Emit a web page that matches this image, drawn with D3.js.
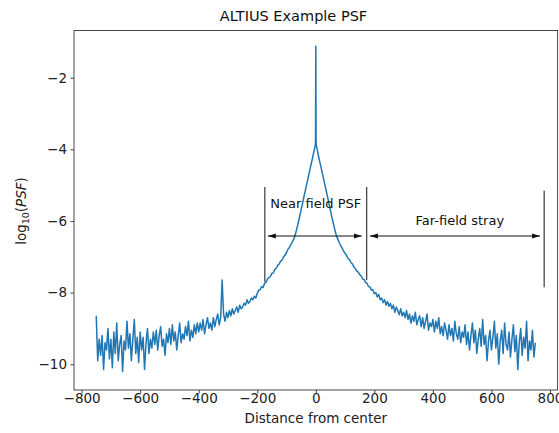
<!DOCTYPE html>
<html>
<head>
<meta charset="utf-8">
<script src="https://cdn.jsdelivr.net/npm/d3@7"></script>
<style>
  body { margin: 0; background: #fff; }
  svg { display: block; font-family: "DejaVu Sans", sans-serif; }
</style>
</head>
<body>
<div id="chart"></div>
<script>
// left wing, distance -750 .. -5 in steps of 5
const leftDistance = d3.range(-750, -4, 5);
const leftLogPsf = [
  -8.65, -9.9, -9.3, -9.75, -9.2, -10.15, -9.4, -9.6, -9.0, -9.85,
  -9.3, -10.1, -9.1, -9.7, -8.85, -9.9, -9.45, -9.2, -10.2, -9.35,
  -9.6, -8.8, -9.55, -9.15, -9.9, -9.3, -8.75, -9.7, -9.25, -9.95,
  -9.1, -9.6, -9.25, -10.15, -9.4, -9.0, -9.7, -9.3, -9.55, -9.1,
  -9.45, -9.05, -9.6, -9.2, -8.95, -9.5, -9.3, -9.75, -9.15, -9.4,
  -9.0, -9.45, -8.9, -9.35, -9.1, -9.6, -9.2, -8.85, -9.4, -9.15,
  -9.3, -8.95, -9.2, -8.8, -9.35, -9.05, -9.25, -8.9, -9.15, -8.85,
  -9.1, -8.85, -9.05, -8.75, -9.15, -8.9, -8.7, -9.0, -8.85, -9.05,
  -8.7, -8.95, -8.75, -8.6, -8.9, -8.7, -7.65, -8.6, -8.8, -8.55,
  -8.7, -8.5, -8.65, -8.45, -8.6, -8.5, -8.4, -8.55, -8.35, -8.45,
  -8.4, -8.3, -8.35, -8.2, -8.3, -8.25, -8.15, -8.2, -8.1, -8.15,
  -8.02, -7.93, -7.92, -7.83, -7.86, -7.74, -7.72, -7.62, -7.58, -7.55,
  -7.46, -7.45, -7.35, -7.32, -7.24, -7.2, -7.12, -7.09, -7.0, -6.95,
  -6.88, -6.79, -6.74, -6.65, -6.58, -6.5, -6.38, -6.22, -6.05, -5.87,
  -5.68, -5.5, -5.3, -5.12, -4.93, -4.75, -4.56, -4.38, -4.2, -4.0
];
// central spike
const coreDistance = [-2, -1, 0, 1, 2];
const coreLogPsf = [-3.9, -3.8, -1.12, -3.8, -3.9];
// right wing, distance 5 .. 750 in steps of 5
const rightDistance = d3.range(5, 751, 5);
const rightLogPsf = [
  -4.02, -4.22, -4.4, -4.58, -4.76, -4.95, -5.14, -5.32, -5.52, -5.7,
  -5.9, -6.07, -6.24, -6.4, -6.5, -6.6, -6.69, -6.76, -6.84, -6.9,
  -6.96, -7.04, -7.08, -7.16, -7.2, -7.28, -7.33, -7.4, -7.43, -7.5,
  -7.53, -7.62, -7.63, -7.72, -7.74, -7.83, -7.84, -7.93, -7.92, -8.03,
  -8.0, -8.12, -8.05, -8.2, -8.15, -8.28, -8.2, -8.35, -8.25, -8.38,
  -8.3, -8.45, -8.35, -8.55, -8.4, -8.5, -8.62, -8.45, -8.65, -8.55,
  -8.7, -8.5, -8.75, -8.6, -8.85, -8.65, -8.8, -8.55, -8.9, -8.75,
  -8.65, -8.95, -8.7, -9.0, -8.8, -8.6, -9.05, -8.85, -8.95, -8.75,
  -9.1, -8.8, -9.0, -8.7, -9.15, -8.95, -9.2, -8.85, -9.05, -9.3,
  -8.9, -9.2, -9.0, -9.35, -8.8, -9.15, -9.3, -8.95, -9.4, -9.1,
  -9.25, -8.9, -9.45, -9.1, -9.6, -9.2, -8.85, -9.4, -9.05, -9.7,
  -9.3, -9.0, -9.5, -8.75, -9.45, -9.2, -9.9, -9.35, -9.05, -9.6,
  -9.25, -8.8, -9.55, -9.15, -10.0, -9.35, -9.05, -9.7, -8.85, -9.45,
  -9.6, -9.1, -9.8, -9.3, -8.9, -9.65, -9.2, -10.15, -9.4, -9.0,
  -9.75, -9.25, -9.55, -8.8, -9.9, -9.35, -9.6, -9.05, -9.8, -9.4
];

const xTicks = [-800, -600, -400, -200, 0, 200, 400, 600, 800];
const yTicks = [-10, -8, -6, -4, -2];

// annotation markers (data units)
const nearFieldEdges = [-174, 174];
const farFieldEdge = 780;

const width = 559, height = 433;
const marginLeft = 74, marginTop = 30.5, plotRight = 557.6, plotBottom = 390;

const data = [];
leftDistance.forEach((d, i) => data.push([d, leftLogPsf[i]]));
coreDistance.forEach((d, i) => data.push([d, coreLogPsf[i]]));
rightDistance.forEach((d, i) => data.push([d, rightLogPsf[i]]));

const x = d3.scaleLinear().domain([-826, 826]).range([marginLeft, plotRight]);
const y = d3.scaleLinear().domain([-10.72, -0.68]).range([plotBottom, marginTop]);

const svg = d3.select("#chart").append("svg")
  .attr("width", width)
  .attr("height", height)
  .attr("viewBox", [0, 0, width, height]);

svg.append("defs").append("marker")
  .attr("id", "head")
  .attr("viewBox", "0 -3 8 6")
  .attr("refX", 8)
  .attr("refY", 0)
  .attr("markerUnits", "userSpaceOnUse")
  .attr("markerWidth", 8)
  .attr("markerHeight", 6)
  .attr("orient", "auto-start-reverse")
  .append("path")
  .attr("d", "M0,-2.5L8,0L0,2.5Z")
  .attr("fill", "#111");

svg.append("path")
  .datum(data)
  .attr("fill", "none")
  .attr("stroke", "#1f77b4")
  .attr("stroke-width", 1.5)
  .attr("stroke-linejoin", "round")
  .attr("d", d3.line().x(d => x(d[0])).y(d => y(d[1])));

// axes
const xAxis = svg.append("g")
  .attr("transform", `translate(0,${plotBottom})`)
  .call(d3.axisBottom(x).tickValues(xTicks).tickSize(3.5).tickPadding(0));
const yAxis = svg.append("g")
  .attr("transform", `translate(${marginLeft},0)`)
  .call(d3.axisLeft(y).tickValues(yTicks).tickSize(3.5).tickPadding(3.5));
[xAxis, yAxis].forEach(g => {
  g.select(".domain").remove();
  g.selectAll("line").attr("stroke", "#333").attr("stroke-width", 0.9);
  g.selectAll("text").attr("fill", "#222").attr("font-size", 13.5)
    .attr("font-family", "DejaVu Sans, sans-serif");
});

svg.append("rect")
  .attr("x", marginLeft)
  .attr("y", marginTop)
  .attr("width", plotRight - marginLeft)
  .attr("height", plotBottom - marginTop)
  .attr("fill", "none")
  .attr("stroke", "#333")
  .attr("stroke-width", 0.9);

// annotations
const ann = svg.append("g").attr("stroke", "#111").attr("stroke-width", 1);
ann.append("line")
  .attr("x1", x(nearFieldEdges[0])).attr("x2", x(nearFieldEdges[0]))
  .attr("y1", y(-5.05)).attr("y2", y(-7.7));
ann.append("line")
  .attr("x1", x(nearFieldEdges[1])).attr("x2", x(nearFieldEdges[1]))
  .attr("y1", y(-5.05)).attr("y2", y(-7.65));
ann.append("line")
  .attr("x1", x(farFieldEdge)).attr("x2", x(farFieldEdge))
  .attr("y1", y(-5.15)).attr("y2", y(-7.85));
ann.append("line")
  .attr("x1", x(-164)).attr("x2", x(157))
  .attr("y1", y(-6.42)).attr("y2", y(-6.42))
  .attr("marker-start", "url(#head)").attr("marker-end", "url(#head)");
ann.append("line")
  .attr("x1", x(185)).attr("x2", x(766))
  .attr("y1", y(-6.42)).attr("y2", y(-6.42))
  .attr("marker-start", "url(#head)").attr("marker-end", "url(#head)");

svg.append("text")
  .attr("x", x(0)).attr("y", y(-5.65))
  .attr("text-anchor", "middle").attr("font-size", 13).attr("fill", "#111")
  .text("Near field PSF");
svg.append("text")
  .attr("x", x(492)).attr("y", y(-6.12))
  .attr("text-anchor", "middle").attr("font-size", 13).attr("fill", "#111")
  .text("Far-field stray");

// title and labels
svg.append("text")
  .attr("x", 293.5).attr("y", 21)
  .attr("text-anchor", "middle").attr("font-size", 14.5).attr("fill", "#111")
  .text("ALTIUS Example PSF");

svg.append("text")
  .attr("x", x(0)).attr("y", 423)
  .attr("text-anchor", "middle").attr("font-size", 13.5).attr("fill", "#222")
  .text("Distance from center");

const yl = svg.append("text")
  .attr("transform", "translate(26,211) rotate(-90)")
  .attr("text-anchor", "middle").attr("font-size", 13.5).attr("fill", "#222");
yl.append("tspan").text("log");
yl.append("tspan").attr("font-size", 9.5).attr("dy", 3).text("10");
yl.append("tspan").attr("dy", -3).text("(");
yl.append("tspan").attr("font-style", "italic").text("PSF");
yl.append("tspan").text(")");
</script>
</body>
</html>
